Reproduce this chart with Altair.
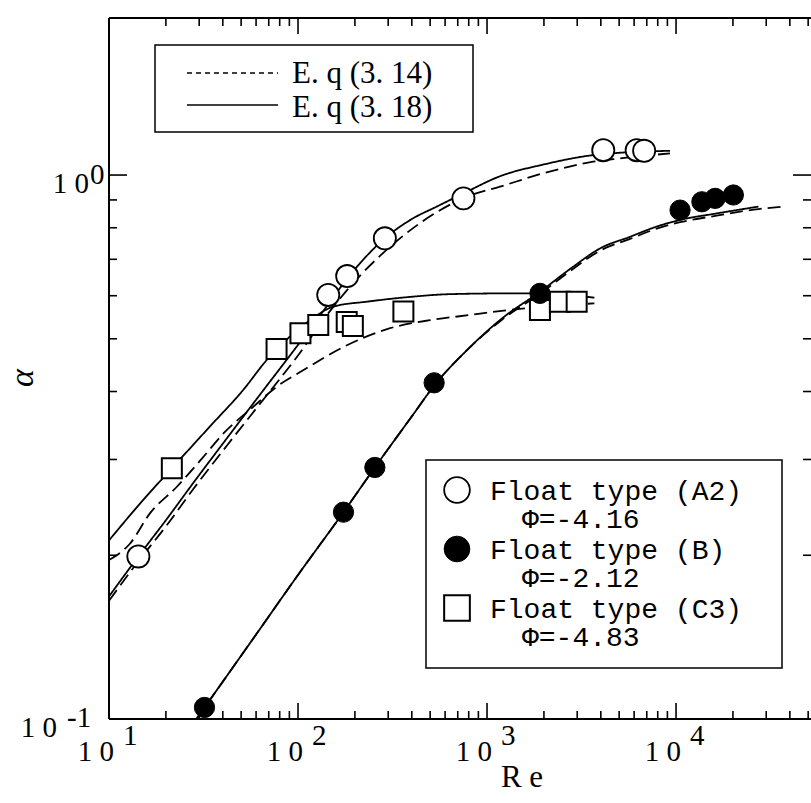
import altair as alt
import pandas as pd

# ---------------- measured points ----------------
# Float type (A2), phi = -4.16  (open circles)
A2_RE = [14.3, 144.5, 182, 288, 750, 4120, 6190, 6780]
A2_ALPHA = [0.199, 0.602, 0.652, 0.765, 0.906, 1.111, 1.111, 1.108]
# Float type (B), phi = -2.12  (filled circles)
B_RE = [32, 174, 255, 525, 1905, 10500, 13700, 16100, 20100]
B_ALPHA = [0.105, 0.240, 0.290, 0.415, 0.606, 0.862, 0.893, 0.906, 0.919]
# Float type (C3), phi = -4.83  (open squares)
C3_RE = [21.5, 77, 103, 128, 181, 195, 361, 1905, 2430, 2980]
C3_ALPHA = [0.289, 0.479, 0.512, 0.530, 0.537, 0.528, 0.561, 0.565, 0.585, 0.585]

# ---------------- model curves ----------------
# Eq. (3.18) -> solid, Eq. (3.14) -> dashed
A2_318_RE = [10, 14.3, 20, 28, 42, 63, 95, 140, 182, 288, 400, 542, 750, 1172, 1977, 3640, 5060, 9290]
A2_318_ALPHA = [0.168, 0.199, 0.232, 0.272, 0.328, 0.395, 0.476, 0.57, 0.645, 0.765, 0.83, 0.875, 0.925,
                0.995, 1.045, 1.088, 1.099, 1.108]
A2_314_RE = [10, 14.3, 20, 28, 42, 63, 95, 154, 188, 307, 543, 800, 1172, 1977, 3640, 5060, 9290]
A2_314_ALPHA = [0.165, 0.195, 0.226, 0.265, 0.318, 0.38, 0.455, 0.573, 0.623, 0.738, 0.855, 0.915, 0.952,
                1.007, 1.058, 1.073, 1.096]

B_318_RE = [29, 60, 100, 174, 255, 400, 525, 800, 1200, 1905, 2850, 3960, 5710, 7900, 10500, 16400, 27300]
B_318_ALPHA = [0.1, 0.143, 0.184, 0.240, 0.29, 0.36, 0.41, 0.48, 0.545, 0.61, 0.678, 0.733, 0.77, 0.804,
               0.827, 0.85, 0.875]
B_314_RE = [29, 60, 100, 174, 255, 400, 525, 800, 1200, 1905, 2850, 3960, 5710, 7900, 10500, 16400, 27300, 36000]
B_314_ALPHA = [0.1, 0.143, 0.184, 0.240, 0.29, 0.36, 0.41, 0.48, 0.542, 0.605, 0.672, 0.726, 0.763, 0.797,
               0.819, 0.842, 0.866, 0.874]

C3_318_RE = [10, 15.2, 21.5, 34.2, 51.4, 68.3, 90.8, 116, 154, 231, 392, 637, 1324, 1905, 3700]
C3_318_ALPHA = [0.213, 0.253, 0.289, 0.345, 0.403, 0.457, 0.505, 0.541, 0.573, 0.585, 0.597, 0.604, 0.606,
                0.606, 0.595]
C3_314_RE = [10, 12.9, 16.5, 22.8, 31.5, 40.3, 58, 77, 107, 174, 307, 499, 812, 1324, 2400, 3700]
C3_314_ALPHA = [0.196, 0.21, 0.239, 0.267, 0.303, 0.335, 0.375, 0.408, 0.438, 0.483, 0.523, 0.541, 0.553,
                0.565, 0.575, 0.581]

# ---------------- axis ticks / labels ----------------
X_MAJOR = [10, 100, 1000, 10000]
X_MINOR = [20, 30, 40, 50, 60, 70, 80, 90, 200, 300, 400, 500, 600, 700, 800, 900,
           2000, 3000, 4000, 5000, 6000, 7000, 8000, 9000, 20000, 30000, 40000, 50000]
X_EXP = ["1", "2", "3", "4"]
Y_MAJOR = [0.1, 1.0]
Y_MINOR = [0.2, 0.3, 0.4, 0.5, 0.6, 0.7, 0.8, 0.9]
Y_EXP = ["-1", "0"]

EQ_LABELS = ["E. q  (3. 14)", "E. q  (3. 18)"]
TYPE_LABELS = ["Float type (A2)", "Float type (B)", "Float type (C3)"]
PHI_LABELS = ["\u03a6=-4.16", "\u03a6=-2.12", "\u03a6=-4.83"]

# ---------------- layout ----------------
W, H = 702, 701
X_MAX = 51760
Y_MAX = 1.944
SERIF = "Liberation Serif"
MONO = "Liberation Mono"

xs = alt.Scale(type="log", domain=[10, X_MAX], nice=False)
ys = alt.Scale(type="log", domain=[0.1, Y_MAX], nice=False)
one = pd.DataFrame({"k": [0]})


def curve_frame(name, eq, re, al):
    return pd.DataFrame({"Re": re, "alpha": al, "curve": name, "eq": eq})


curves = pd.concat([
    curve_frame("A2 318", "3.18", A2_318_RE, A2_318_ALPHA),
    curve_frame("A2 314", "3.14", A2_314_RE, A2_314_ALPHA),
    curve_frame("B 318", "3.18", B_318_RE, B_318_ALPHA),
    curve_frame("B 314", "3.14", B_314_RE, B_314_ALPHA),
    curve_frame("C3 318", "3.18", C3_318_RE, C3_318_ALPHA),
    curve_frame("C3 314", "3.14", C3_314_RE, C3_314_ALPHA),
])

lines = alt.Chart(curves).mark_line(
    color="black", strokeWidth=1.8, interpolate="monotone", clip=True
).encode(
    x=alt.X("Re:Q", scale=xs, axis=None),
    y=alt.Y("alpha:Q", scale=ys, axis=None),
    detail="curve:N",
    strokeDash=alt.StrokeDash("eq:N", scale=alt.Scale(domain=["3.14", "3.18"], range=[[13, 6], [1, 0]]),
                              legend=None),
)


def points(re, al, shape, fill, size, sw):
    df = pd.DataFrame({"Re": re, "alpha": al})
    return alt.Chart(df).mark_point(
        shape=shape, filled=True, fill=fill, stroke="black", strokeWidth=sw, size=size,
        opacity=1, fillOpacity=1, strokeOpacity=1
    ).encode(x=alt.X("Re:Q", scale=xs), y=alt.Y("alpha:Q", scale=ys))


pts = [
    points(C3_RE, C3_ALPHA, "square", "white", 400, 2),
    points(A2_RE, A2_ALPHA, "circle", "white", 490, 1.8),
    points(B_RE, B_ALPHA, "circle", "black", 410, 1),
]

# ---------------- frame and ticks ----------------
frame = [
    alt.Chart(one).mark_rule(color="black", strokeWidth=2).encode(x=alt.value(0), y=alt.value(0), y2=alt.value(H)),
    alt.Chart(one).mark_rule(color="black", strokeWidth=2).encode(x=alt.value(0), x2=alt.value(W), y=alt.value(H)),
    alt.Chart(one).mark_rule(color="black", strokeWidth=2).encode(x=alt.value(0), x2=alt.value(W), y=alt.value(0)),
]


def xticks(vals, length):
    df = pd.DataFrame({"v": vals})
    base = alt.Chart(df).mark_rule(color="black", strokeWidth=1.6)
    return [
        base.encode(x=alt.X("v:Q", scale=xs), y=alt.value(H), y2=alt.value(H - length)),
        base.encode(x=alt.X("v:Q", scale=xs), y=alt.value(0), y2=alt.value(length)),
    ]


def yticks(vals, length):
    df = pd.DataFrame({"v": vals})
    base = alt.Chart(df).mark_rule(color="black", strokeWidth=1.6)
    return [
        base.encode(y=alt.Y("v:Q", scale=ys), x=alt.value(0), x2=alt.value(length)),
        base.encode(y=alt.Y("v:Q", scale=ys), x=alt.value(W), x2=alt.value(W - length)),
    ]


ticks = xticks(X_MAJOR, 16) + xticks(X_MINOR, 8) + yticks(Y_MAJOR, 18) + yticks(Y_MINOR, 8)

# tick labels written as "1 0" with a raised exponent
xlab_df = pd.DataFrame({"Re": X_MAJOR, "exp": X_EXP})
xlabels = [
    alt.Chart(xlab_df).mark_text(text="1 0", align="right", baseline="alphabetic", dx=5,
                                 font=SERIF, fontSize=29, color="black")
    .encode(x=alt.X("Re:Q", scale=xs), y=alt.value(H + 42)),
    alt.Chart(xlab_df).mark_text(align="left", baseline="alphabetic", dx=14,
                                 font=SERIF, fontSize=29, color="black")
    .encode(x=alt.X("Re:Q", scale=xs), y=alt.value(H + 26), text="exp:N"),
]

# (base right edge, exponent left edge, exponent baseline shift) per label
Y_LABEL_POS = [(-52, -42, 8), (-20, -19, 9)]
ylabels = []
for v, e, (xr, xe, de) in zip(Y_MAJOR, Y_EXP, Y_LABEL_POS):
    ylabels.append(alt.Chart(pd.DataFrame({"v": [v]})).mark_text(
        text="1 0", align="right", baseline="alphabetic", dy=18, font=SERIF, fontSize=29, color="black"
    ).encode(y=alt.Y("v:Q", scale=ys), x=alt.value(xr)))
    ylabels.append(alt.Chart(pd.DataFrame({"v": [v]})).mark_text(
        text=e, align="left", baseline="alphabetic", dy=de, font=SERIF, fontSize=29, color="black"
    ).encode(y=alt.Y("v:Q", scale=ys), x=alt.value(xe)))


def text_at(s, x, y, size, font, align="left", baseline="alphabetic", **kw):
    return alt.Chart(one).mark_text(text=s, align=align, baseline=baseline, fontSize=size,
                                    font=font, color="black", **kw).encode(x=alt.value(x), y=alt.value(y))


titles = [
    text_at("R e", 413, H + 68, 31, SERIF, align="center"),
    text_at("\u03b1", -86, 360, 34, SERIF, align="center", baseline="middle", angle=270, fontStyle="italic"),
]

# ---------------- legend: model equations ----------------
leg1 = [
    alt.Chart(one).mark_rect(fill="white", stroke="black", strokeWidth=1.5)
    .encode(x=alt.value(46), x2=alt.value(364), y=alt.value(27), y2=alt.value(114)),
    alt.Chart(one).mark_rule(color="black", strokeWidth=1.3, strokeDash=[5, 4])
    .encode(x=alt.value(78), x2=alt.value(169), y=alt.value(55)),
    alt.Chart(one).mark_rule(color="black", strokeWidth=1.5)
    .encode(x=alt.value(78), x2=alt.value(169), y=alt.value(87)),
    text_at(EQ_LABELS[0], 183, 65, 31, SERIF),
    text_at(EQ_LABELS[1], 183, 99, 31, SERIF),
]

# ---------------- legend: float types ----------------
leg2 = [
    alt.Chart(one).mark_rect(fill="white", stroke="black", strokeWidth=1.5)
    .encode(x=alt.value(317), x2=alt.value(673), y=alt.value(442), y2=alt.value(650)),
]
sym_specs = [("circle", "white", 1.8), ("circle", "black", 1), ("square", "white", 2)]
for i, (shape, fill, sw) in enumerate(sym_specs):
    cy = 472 + i * 59
    leg2.append(alt.Chart(one).mark_point(shape=shape, filled=True, fill=fill, stroke="black", strokeWidth=sw,
                                          size=660, opacity=1).encode(x=alt.value(348), y=alt.value(cy)))
    leg2.append(text_at(TYPE_LABELS[i], 381, cy + 10, 28, MONO))
    leg2.append(text_at(PHI_LABELS[i], 413, cy + 38, 28, MONO))

chart = alt.layer(
    lines, *pts, *frame, *ticks, *xlabels, *ylabels, *titles, *leg1, *leg2
).properties(
    width=W, height=H,
    padding={"left": 109, "top": 18, "right": 0, "bottom": 84},
    autosize=alt.AutoSizeParams(type="none"),
    background="white",
).configure_view(stroke=None)

chart.save("out.html", embed_options={"renderer": "svg", "actions": False})
